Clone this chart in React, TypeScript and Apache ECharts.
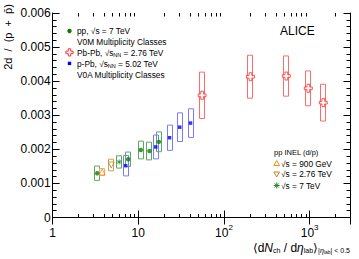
import React, { useEffect, useRef } from 'react';
import * as echarts from 'echarts';

const FONT = '"Liberation Sans", Arial, Helvetica, sans-serif';

// pp, sqrt(s) = 7 TeV, V0M multiplicity classes
const ppDnDeta = [3.32, 7.63, 10.7, 13.5, 17.4];
const ppRatio = [0.0013, 0.00171, 0.00198, 0.00195, 0.00222];
const ppSys = [0.00021, 0.00021, 0.00026, 0.00026, 0.00029];

// p-Pb, sqrt(sNN) = 5.02 TeV, V0A multiplicity classes
const pPbDnDeta = [7.13, 16.0, 23.2, 30.5, 40.7];
const pPbRatio = [0.00152, 0.00207, 0.00234, 0.00265, 0.00277];
const pPbSys = [0.0003, 0.00035, 0.00037, 0.00042, 0.00042];

// Pb-Pb, sqrt(sNN) = 2.76 TeV
const PbPbDnDeta = [55.6, 204, 535, 966, 1445];
const PbPbRatio = [0.003585, 0.00413, 0.00415, 0.00379, 0.00337];
const PbPbSys = [0.00068, 0.00063, 0.00059, 0.00051, 0.00054];

// pp INEL (d/p): 900 GeV, 2.76 TeV, 7 TeV
const inelLabels = ['900 GeV', '2.76 TeV', '7 TeV'];
const inelDnDeta = [3.79, 4.83, 5.99];
const inelRatio = [0.001335, 0.00154, 0.00163];
const inelSys = [0.0001, 0.00017, 0.00018];

// axes
const xMin = 1;
const xMax = 3000;
const yMin = 0;
const yMax = 0.006;
const yStep = 0.001;
const xMinorTicks = [2, 3, 4, 5, 6, 7, 8, 9, 20, 30, 40, 50, 60, 70, 80, 90, 200, 300, 400, 500, 600, 700, 800, 900, 2000];

// styles (kept apart from the data)
const PP_COLOR = '#0b7a0b';
const PP_BOX = '#5aaa5a';
const PPB_COLOR = '#0000ff';
const PPB_BOX = '#7a7aff';
const PBPB_COLOR = '#ff3030';
const PBPB_BOX = '#ff6a6a';
const INEL_COLORS = ['#f08c1e', '#c08a22', '#2a8a2a'];
const INEL_BOXES = ['#f4a860', '#d0a050', '#5aaa5a'];
const CROSS = 'path://M3,0 L6,0 L6,3 L9,3 L9,6 L6,6 L6,9 L3,9 L3,6 L0,6 L0,3 L3,3 Z';
const STAR = 'path://M5,0 L5,10 M0,5 L10,5 M1.5,1.5 L8.5,8.5 M1.5,8.5 L8.5,1.5';

function boxSeries(xs: number[], ys: number[], es: number[], color: string | string[]) {
  return {
    type: 'custom',
    silent: true,
    z: 2,
    data: xs.map((x, i) => [x, ys[i], es[i], i]),
    encode: { x: 0, y: 1 },
    renderItem: (_p: any, api: any) => {
      const x = api.value(0);
      const y = api.value(1);
      const e = api.value(2);
      const i = api.value(3);
      const top = api.coord([x, y + e]);
      const bot = api.coord([x, y - e]);
      const c = Array.isArray(color) ? color[i] : color;
      return {
        type: 'rect',
        shape: { x: Math.round(top[0]) - 2.5, y: top[1], width: 5, height: bot[1] - top[1] },
        style: { fill: 'none', stroke: c, lineWidth: 1 },
      };
    },
  };
}

function xLabel(v: number) {
  const l = Math.log10(v);
  const e = Math.round(l);
  if (Math.abs(l - e) > 1e-6) return '';
  if (e === 0) return '{b|1}';
  if (e === 1) return '{b|10}';
  return `{b|10}{p|${e}}`;
}

export default function App() {
  const ref = useRef<HTMLDivElement>(null);
  useEffect(() => {
    if (!ref.current) return;
    const chart = echarts.init(ref.current, null, { renderer: 'svg' });
    const axisCommon = {
      type: 'log',
      logBase: 10,
      min: xMin,
      max: xMax,
      axisLine: { show: true, lineStyle: { color: '#000', width: 1 } },
      axisTick: { show: true, inside: true, length: 7, lineStyle: { color: '#000', width: 1 } },
      splitLine: { show: false },
      minorTick: { show: false },
    };
    const yCommon = {
      type: 'value',
      min: yMin,
      max: yMax,
      interval: yStep,
      axisLine: { show: true, lineStyle: { color: '#000', width: 1 } },
      axisTick: { show: true, inside: true, length: 7, lineStyle: { color: '#000', width: 1 } },
      minorTick: { show: true, splitNumber: 5, length: 4, lineStyle: { color: '#000', width: 1 } },
      splitLine: { show: false },
      minorSplitLine: { show: false },
    };
    const legendFont = { fontFamily: FONT, fontSize: 8.3, fill: '#000' };
    const subRich = { s: { fontSize: 5.5, lineHeight: 4, verticalAlign: 'bottom', fontFamily: FONT } };
    const option: any = {
      animation: false,
      backgroundColor: '#fff',
      grid: { left: 52.6, right: 8.5, top: 13, bottom: 41.5, containLabel: false, outerBoundsMode: 'none' },
      xAxis: [
        {
          ...axisCommon,
          position: 'bottom',
          axisLabel: {
            color: '#000',
            margin: 5.5,
            formatter: xLabel,
            showMaxLabel: false,
            rich: {
              b: { fontSize: 12, lineHeight: 16, verticalAlign: 'bottom', fontFamily: FONT, color: '#000' },
              p: { fontSize: 8, lineHeight: 6, verticalAlign: 'top', fontFamily: FONT, color: '#000' },
            },
          },
        },
        { ...axisCommon, position: 'top', axisLabel: { show: false } },
      ],
      yAxis: [
        {
          ...yCommon,
          position: 'left',
          axisLabel: {
            color: '#000',
            fontSize: 12,
            fontFamily: FONT,
            margin: 2,
            formatter: (v: number) => (Math.abs(v) < 1e-12 ? '0' : v.toFixed(3)),
          },
        },
        { ...yCommon, position: 'right', axisLabel: { show: false } },
      ],
      series: [
        {
          type: 'custom',
          silent: true,
          data: xMinorTicks.map((v) => [v, yMin]),
          encode: { x: 0, y: 1 },
          renderItem: (_p: any, api: any) => {
            const v = api.value(0);
            const b = api.coord([v, yMin]);
            const t = api.coord([v, yMax]);
            const xx = Math.round(b[0]) + 0.5;
            return {
              type: 'group',
              children: [
                { type: 'line', shape: { x1: xx, y1: b[1], x2: xx, y2: b[1] - 3.5 }, style: { stroke: '#000', lineWidth: 1 } },
                { type: 'line', shape: { x1: xx, y1: t[1], x2: xx, y2: t[1] + 3.5 }, style: { stroke: '#000', lineWidth: 1 } },
              ],
            };
          },
        },
        boxSeries(ppDnDeta, ppRatio, ppSys, PP_BOX),
        boxSeries(pPbDnDeta, pPbRatio, pPbSys, PPB_BOX),
        boxSeries(PbPbDnDeta, PbPbRatio, PbPbSys, PBPB_BOX),
        boxSeries(inelDnDeta, inelRatio, inelSys, INEL_BOXES),
        {
          type: 'scatter',
          z: 3,
          symbol: 'circle',
          symbolSize: 4.5,
          itemStyle: { color: PP_COLOR },
          data: ppDnDeta.map((x, i) => [x, ppRatio[i]]),
        },
        {
          type: 'scatter',
          z: 3,
          symbol: 'rect',
          symbolSize: 3.5,
          itemStyle: { color: PPB_COLOR },
          data: pPbDnDeta.map((x, i) => [x, pPbRatio[i]]),
        },
        {
          type: 'scatter',
          z: 3,
          symbol: CROSS,
          symbolSize: 8,
          itemStyle: { color: '#fff', borderColor: PBPB_COLOR, borderWidth: 1 },
          data: PbPbDnDeta.map((x, i) => [x, PbPbRatio[i]]),
        },
        {
          type: 'scatter',
          z: 3,
          data: inelDnDeta.map((x, i) => ({
            name: inelLabels[i],
            value: [x, inelRatio[i]],
            symbol: i === 2 ? STAR : 'triangle',
            symbolRotate: i === 1 ? 180 : 0,
            symbolSize: i === 2 ? 5 : 6,
            itemStyle: { color: i === 2 ? 'none' : 'rgba(255,255,255,0)', borderColor: INEL_COLORS[i], borderWidth: 1 },
          })),
        },
      ],
      graphic: [
        {
          type: 'text',
          x: 7.5,
          y: 37,
          rotation: Math.PI / 2,
          style: { text: '2d  /  (p  +  p\u0304)', fontSize: 11, fontFamily: FONT, fill: '#000', align: 'center', verticalAlign: 'middle' },
        },
        {
          type: 'text',
          x: 350,
          y: 242,
          style: {
            text: '{m|\u27E8d}{mi|N}{s|ch}{m| / d}{mi|\u03B7}{s|lab}{m|\u27E9}{s||}{si|\u03B7}{ss|lab}{s|| < 0.5}',
            align: 'right',
            verticalAlign: 'middle',
            fill: '#000',
            fontFamily: FONT,
            rich: {
              m: { fontSize: 12, lineHeight: 24, verticalAlign: 'bottom', fontFamily: FONT },
              mi: { fontSize: 12, lineHeight: 24, verticalAlign: 'bottom', fontStyle: 'italic', fontFamily: FONT },
              s: { fontSize: 7, lineHeight: 14, verticalAlign: 'bottom', fontFamily: FONT },
              si: { fontSize: 7, lineHeight: 14, verticalAlign: 'bottom', fontStyle: 'italic', fontFamily: FONT },
              ss: { fontSize: 5, lineHeight: 10, verticalAlign: 'bottom', fontFamily: FONT },
            },
          },
        },
        {
          type: 'text',
          x: 280,
          y: 31,
          style: { text: 'ALICE', fontSize: 12, fontFamily: FONT, fill: '#000', verticalAlign: 'middle' },
        },
        // top-left legend
        { type: 'circle', shape: { cx: 69.5, cy: 31, r: 2.2 }, style: { fill: PP_COLOR } },
        { type: 'text', x: 77, y: 31, style: { ...legendFont, text: 'pp, \u221As = 7 TeV', verticalAlign: 'middle' } },
        { type: 'text', x: 77, y: 41.5, style: { ...legendFont, text: 'V0M Multiplicity Classes', verticalAlign: 'middle' } },
        {
          type: 'polygon',
          shape: {
            points: [
              [68.3, 48.8], [70.7, 48.8], [70.7, 51.2], [73.1, 51.2], [73.1, 53.6], [70.7, 53.6],
              [70.7, 56], [68.3, 56], [68.3, 53.6], [65.9, 53.6], [65.9, 51.2], [68.3, 51.2],
            ],
          },
          style: { fill: '#fff', stroke: PBPB_COLOR, lineWidth: 1 },
        },
        {
          type: 'text', x: 77, y: 52.5,
          style: { ...legendFont, lineHeight: 10, text: 'Pb-Pb, \u221As{s|NN} = 2.76 TeV', verticalAlign: 'middle', rich: subRich },
        },
        { type: 'rect', shape: { x: 67.8, y: 61.7, width: 3.4, height: 3.4 }, style: { fill: PPB_COLOR } },
        {
          type: 'text', x: 77, y: 63.5,
          style: { ...legendFont, lineHeight: 10, text: 'p-Pb, \u221As{s|NN} = 5.02 TeV', verticalAlign: 'middle', rich: subRich },
        },
        { type: 'text', x: 77, y: 75, style: { ...legendFont, text: 'V0A Multiplicity Classes', verticalAlign: 'middle' } },
        // bottom-right legend
        { type: 'text', x: 274, y: 152.5, style: { ...legendFont, fontSize: 7.5, text: 'pp INEL (d/p)', verticalAlign: 'middle' } },
        {
          type: 'polygon',
          shape: { points: [[276.7, 160.5], [279.5, 165.5], [273.9, 165.5]] },
          style: { fill: 'none', stroke: INEL_COLORS[0], lineWidth: 1 },
        },
        { type: 'text', x: 281, y: 163.5, style: { ...legendFont, text: '\u221As = ' + inelLabels[0], verticalAlign: 'middle' } },
        {
          type: 'polygon',
          shape: { points: [[273.9, 172], [279.5, 172], [276.7, 177]] },
          style: { fill: 'none', stroke: INEL_COLORS[1], lineWidth: 1 },
        },
        { type: 'text', x: 281, y: 174.3, style: { ...legendFont, text: '\u221As = ' + inelLabels[1], verticalAlign: 'middle' } },
        {
          type: 'group',
          children: [
            { type: 'line', shape: { x1: 276.7, y1: 182.5, x2: 276.7, y2: 188.5 }, style: { stroke: INEL_COLORS[2], lineWidth: 1 } },
            { type: 'line', shape: { x1: 273.7, y1: 185.5, x2: 279.7, y2: 185.5 }, style: { stroke: INEL_COLORS[2], lineWidth: 1 } },
            { type: 'line', shape: { x1: 274.6, y1: 183.4, x2: 278.8, y2: 187.6 }, style: { stroke: INEL_COLORS[2], lineWidth: 1 } },
            { type: 'line', shape: { x1: 274.6, y1: 187.6, x2: 278.8, y2: 183.4 }, style: { stroke: INEL_COLORS[2], lineWidth: 1 } },
          ],
        },
        { type: 'text', x: 281, y: 185.5, style: { ...legendFont, text: '\u221As = ' + inelLabels[2], verticalAlign: 'middle' } },
      ],
    };
    chart.setOption(option);
    return () => chart.dispose();
  }, []);
  return <div ref={ref} style={{ position: 'fixed', left: 0, top: 0, width: 359, height: 259, background: '#fff' }} />;
}
